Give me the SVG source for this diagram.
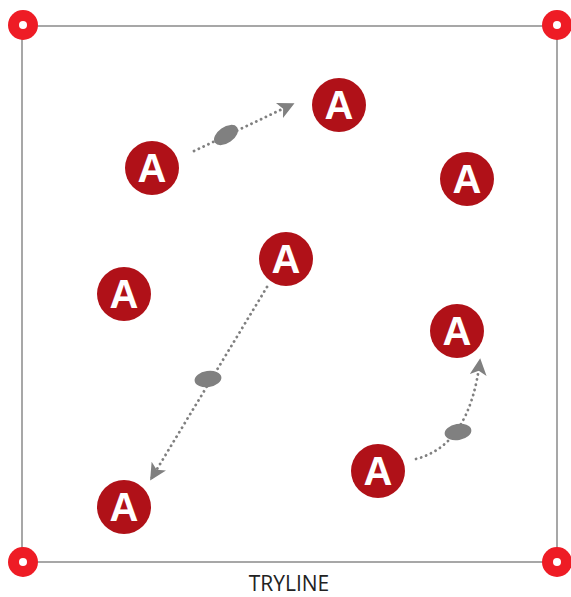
<svg xmlns="http://www.w3.org/2000/svg" width="571" height="597" viewBox="0 0 571 597">
<style>
.player circle{fill:#b01118}
.player text{fill:#fff;font-family:"Liberation Sans",Arial,sans-serif;font-weight:bold;font-size:40px;text-anchor:middle}
.corner .o{fill:#ee1c25}
.corner .i{fill:#fff}
.run{fill:none;stroke:#808080;stroke-width:2.8;stroke-dasharray:0.1 5.2;stroke-linecap:round}
.ball{fill:#808080}
</style>
<defs>
<marker id="ah" viewBox="0 0 10 10" refX="9" refY="5" markerWidth="6" markerHeight="6" markerUnits="strokeWidth" orient="auto">
<path d="M0,0 L10,5 L0,10 L2.5,5 Z" fill="#808080"/>
</marker>
</defs>
<rect id="field" x="22" y="26" width="535" height="536" fill="none" stroke="#8a8a8a" stroke-width="1.5"/>
<g id="corners" class="corner">
<circle class="o" cx="23" cy="25" r="15"/><circle class="i" cx="23" cy="25" r="4"/>
<circle class="o" cx="557" cy="25" r="15"/><circle class="i" cx="557" cy="25" r="4"/>
<circle class="o" cx="23" cy="562" r="15"/><circle class="i" cx="23" cy="562" r="4"/>
<circle class="o" cx="557" cy="562" r="15"/><circle class="i" cx="557" cy="562" r="4"/>
</g>
<g id="connectors">
<path class="run" d="M194,151 L293,104" marker-end="url(#ah)"/>
<path class="run" d="M267,287 L151,479" marker-end="url(#ah)"/>
<path class="run" d="M416,459 Q470,445 480,360" marker-end="url(#ah)"/>
<ellipse class="ball" cx="226" cy="135" rx="13.5" ry="8" transform="rotate(-35 226 135)"/>
<ellipse class="ball" cx="208" cy="379" rx="13.5" ry="8" transform="rotate(-8 208 379)"/>
<ellipse class="ball" cx="458" cy="432" rx="13.5" ry="8" transform="rotate(-10 458 432)"/>
</g>
<g id="p1" class="player"><circle cx="152" cy="168" r="27"/><text x="152" y="182">A</text></g>
<g id="p2" class="player"><circle cx="339" cy="105" r="27"/><text x="339" y="119">A</text></g>
<g id="p3" class="player"><circle cx="467" cy="179" r="27"/><text x="467" y="193">A</text></g>
<g id="p4" class="player"><circle cx="286" cy="259" r="27"/><text x="286" y="273">A</text></g>
<g id="p5" class="player"><circle cx="124" cy="294" r="27"/><text x="124" y="308">A</text></g>
<g id="p6" class="player"><circle cx="457" cy="331" r="27"/><text x="457" y="345">A</text></g>
<g id="p7" class="player"><circle cx="378" cy="471" r="27"/><text x="378" y="485">A</text></g>
<g id="p8" class="player"><circle cx="124" cy="507" r="27"/><text x="124" y="521">A</text></g>
<text id="tryline" x="289" y="591" font-family="'Open Sans',sans-serif" font-size="21" fill="#222" text-anchor="middle">TRYLINE</text>
</svg>
